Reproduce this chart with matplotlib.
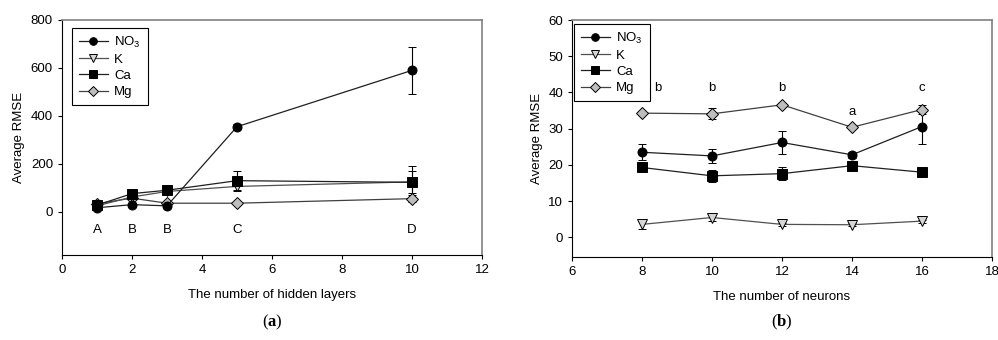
import matplotlib
matplotlib.use("Agg")
import matplotlib.pyplot as plt
from matplotlib.lines import Line2D

plt.rcParams["font.family"] = ["Liberation Sans", "DejaVu Sans"]
plt.rcParams["mathtext.fontset"] = "custom"
plt.rcParams["mathtext.rm"] = "Liberation Sans"
plt.rcParams["mathtext.bf"] = "Liberation Serif:bold"

# panel (a): hidden layers
layers = [1, 2, 3, 5, 10]
a_no3 = [17, 30, 25, 355, 590]
a_no3_err = [3, 5, 4, 10, 97]
a_k = [25, 62, 85, 106, 125]
a_k_err = [3, 5, 5, 20, 45]
a_ca = [28, 76, 90, 130, 123]
a_ca_err = [3, 6, 6, 40, 70]
a_mg = [34, 57, 36, 36, 55]
a_mg_err = [2, 4, 3, 3, 15]
a_letters = ["A", "B", "B", "C", "D"]

# panel (b): neurons
neurons = [8, 10, 12, 14, 16]
b_no3 = [23.5, 22.5, 26.2, 22.8, 30.6]
b_no3_err = [2.2, 2.0, 3.2, 0.8, 4.8]
b_k = [3.6, 5.5, 3.6, 3.5, 4.5]
b_k_err = [1.2, 1.0, 0.4, 0.4, 0.4]
b_ca = [19.3, 17.0, 17.6, 19.8, 18.0]
b_ca_err = [0.5, 1.7, 1.8, 0.6, 0.6]
b_mg = [34.3, 34.1, 36.6, 30.4, 35.3]
b_mg_err = [0.4, 1.5, 0.5, 0.4, 1.3]
b_letters = ["b", "b", "b", "a", "c"]
b_letter_x = [8.46, 10, 12, 14, 16]
b_letter_y = [41.3, 41.3, 41.3, 34.6, 41.3]

fig = plt.figure(figsize=(9.98, 3.4), dpi=100)
ax1 = fig.add_axes([62 / 998, 1 - 255 / 340, 420 / 998, 235 / 340])
ax2 = fig.add_axes([572 / 998, 1 - 257 / 340, 420 / 998, 237 / 340])

styles = {
    "NO$_3$": ("o", "black", "#202020"),
    "K": ("v", "#d6d6d6", "#505050"),
    "Ca": ("s", "black", "#202020"),
    "Mg": ("D", "#bdbdbd", "#404040"),
}


def draw(ax, x, series):
    for label, y, err in series:
        marker, fc, lc = styles[label]
        ax.errorbar(x, y, yerr=err, marker=marker, ms=6.5,
                    mfc=fc, mec="black", mew=0.7, color=lc, lw=0.9,
                    ecolor="black", elinewidth=0.8, capsize=3, capthick=0.8)


draw(ax1, layers, [("Mg", a_mg, a_mg_err), ("K", a_k, a_k_err),
                   ("Ca", a_ca, a_ca_err), ("NO$_3$", a_no3, a_no3_err)])
draw(ax2, neurons, [("Mg", b_mg, b_mg_err), ("K", b_k, b_k_err),
                    ("Ca", b_ca, b_ca_err), ("NO$_3$", b_no3, b_no3_err)])

for xi, t in zip(layers, a_letters):
    ax1.text(xi, -75, t, ha="center", va="center", fontsize=9.5)
for xi, yi, t in zip(b_letter_x, b_letter_y, b_letters):
    ax2.text(xi, yi, t, ha="center", va="center", fontsize=9.5)

ax1.set_xlim(0, 12)
ax1.set_ylim(-180, 800)
ax1.set_xticks([0, 2, 4, 6, 8, 10, 12])
ax1.set_yticks([0, 200, 400, 600, 800])
ax1.set_xlabel("The number of hidden layers", fontsize=9.5, labelpad=9)

ax2.set_xlim(6, 18)
ax2.set_ylim(-5.4, 60)
ax2.set_xticks([6, 8, 10, 12, 14, 16, 18])
ax2.set_yticks([0, 10, 20, 30, 40, 50, 60])
ax2.set_xlabel("The number of neurons", fontsize=9.5, labelpad=9)

handles = []
for label in ["NO$_3$", "K", "Ca", "Mg"]:
    marker, fc, lc = styles[label]
    handles.append(Line2D([], [], marker=marker, ms=5.5, mfc=fc, mec="black",
                          mew=0.7, color=lc, lw=0.9, label=label))

for ax in (ax1, ax2):
    ax.set_ylabel("Average RMSE", fontsize=9.5, labelpad=4)
    ax.tick_params(direction="out", length=3, width=0.8, labelsize=9.5)
    ax.spines["top"].set_color("#808080")
    ax.spines["right"].set_color("#808080")
    ax.spines["top"].set_linewidth(1.2)
    ax.spines["right"].set_linewidth(1.2)
    leg = ax.legend(handles=handles, loc="upper left", fontsize=9.5,
                    fancybox=False, edgecolor="black", framealpha=1,
                    handlelength=2.2, handletextpad=0.5, labelspacing=0.3,
                    borderpad=0.5, borderaxespad=0,
                    bbox_to_anchor=(0.024, 0.966) if ax is ax1 else (0.005, 0.983))
    leg.get_frame().set_linewidth(0.8)

fig.text(272 / 998, 1 - 322 / 340, r"($\mathbf{a}$)", ha="center", va="center",
         fontsize=12, family="Liberation Serif")
fig.text(782 / 998, 1 - 322 / 340, r"($\mathbf{b}$)", ha="center", va="center",
         fontsize=12, family="Liberation Serif")

fig.savefig("out.png", dpi=100)
